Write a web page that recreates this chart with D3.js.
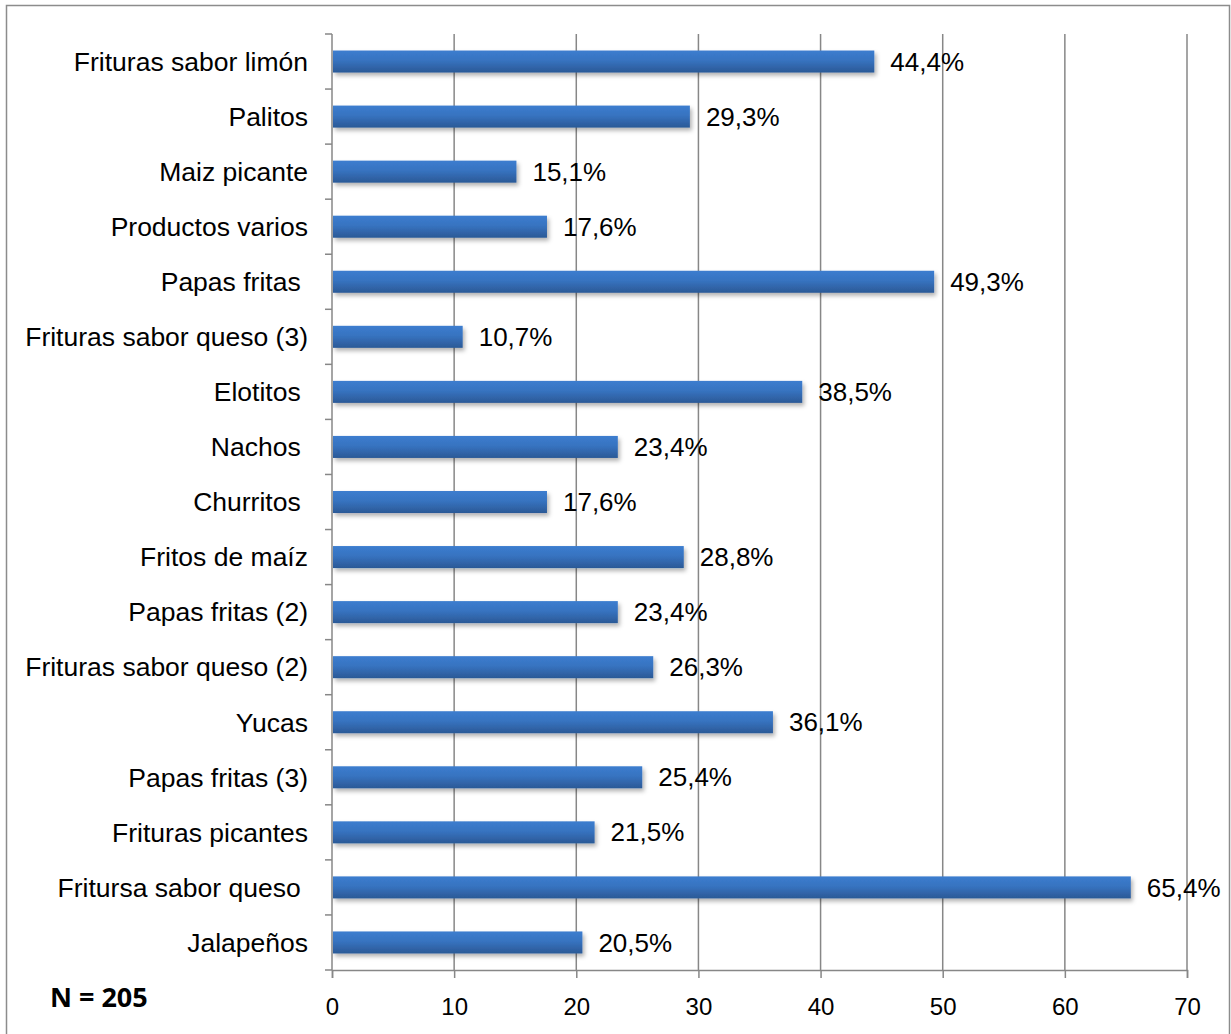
<!DOCTYPE html>
<html>
<head>
<meta charset="utf-8">
<script src="https://cdn.jsdelivr.net/npm/d3@7"></script>
<style>
  body { margin: 0; background: #fff; }
  svg text { font-family: "Liberation Sans", Arial, sans-serif; fill: #000; white-space: pre; }
</style>
</head>
<body>
<div id="chart"></div>
<script>
// Categories top to bottom, with the trailing spaces the source labels have
const categories = [
    "Frituras sabor limón", "Palitos", "Maiz picante", "Productos varios",
    "Papas fritas ", "Frituras sabor queso (3)", "Elotitos ", "Nachos ",
    "Churritos ", "Fritos de maíz", "Papas fritas (2)", "Frituras sabor queso (2)",
    "Yucas", "Papas fritas (3)", "Frituras picantes", "Fritursa sabor queso ", "Jalapeños"
];
const values = [44.4, 29.3, 15.1, 17.6, 49.3, 10.7, 38.5, 23.4, 17.6, 28.8, 23.4, 26.3, 36.1, 25.4, 21.5, 65.4, 20.5];
const xTicks = [0, 10, 20, 30, 40, 50, 60, 70];
const note = "N = 205";

const W = 1231, H = 1034;
const margin = { top: 34, right: 44, bottom: 64, left: 332 };
const width = 1187 - margin.left;
const height = 970 - margin.top;

const svg = d3.select("#chart").append("svg")
    .attr("width", W).attr("height", H);

const defs = svg.append("defs");
const grad = defs.append("linearGradient")
    .attr("id", "barGrad").attr("x1", 0).attr("y1", 0).attr("x2", 0).attr("y2", 1);
grad.append("stop").attr("offset", "0%").attr("stop-color", "#3c7dcf");
grad.append("stop").attr("offset", "45%").attr("stop-color", "#3773c0");
grad.append("stop").attr("offset", "100%").attr("stop-color", "#2b5996");

const shadow = defs.append("filter").attr("id", "shadow")
    .attr("x", "-5%").attr("y", "-40%").attr("width", "110%").attr("height", "200%");
shadow.append("feDropShadow")
    .attr("dx", 2).attr("dy", 3).attr("stdDeviation", 2)
    .attr("flood-color", "#000").attr("flood-opacity", 0.3);

// outer frame
svg.append("rect")
    .attr("x", 6.5).attr("y", 5.5).attr("width", 1223).attr("height", 1040)
    .attr("fill", "none").attr("stroke", "#8c8c8c").attr("stroke-width", 1.5);

const g = svg.append("g").attr("transform", `translate(${margin.left},${margin.top})`);

const x = d3.scaleLinear().domain([0, 70]).range([0, width]);
const y = d3.scaleBand().domain(categories).range([0, height]).paddingInner(0.6).paddingOuter(0.3);

// vertical gridlines
g.append("g").selectAll("line")
    .data(xTicks.slice(1))
    .join("line")
    .attr("x1", d => x(d)).attr("x2", d => x(d))
    .attr("y1", 0).attr("y2", height)
    .attr("stroke", "#878787").attr("stroke-width", 1.5);

// x axis
const xAxis = g.append("g")
    .attr("transform", `translate(0,${height})`)
    .call(d3.axisBottom(x).tickValues(xTicks).tickSize(8).tickPadding(20).tickFormat(d3.format("d")));
xAxis.select(".domain").attr("stroke", "#878787").attr("stroke-width", 1.5);
xAxis.selectAll(".tick line").attr("stroke", "#878787").attr("stroke-width", 1.5);
xAxis.selectAll("text").style("font-size", "24px");

// y axis: ticks sit on band boundaries
const step = height / categories.length;
const yAxis = g.append("g");
yAxis.append("line")
    .attr("x1", 0).attr("x2", 0).attr("y1", 0).attr("y2", height)
    .attr("stroke", "#878787").attr("stroke-width", 1.5);
yAxis.selectAll("line.tk")
    .data(d3.range(categories.length + 1))
    .join("line").attr("class", "tk")
    .attr("x1", -7).attr("x2", 0)
    .attr("y1", i => i * step).attr("y2", i => i * step)
    .attr("stroke", "#878787").attr("stroke-width", 1.5);
yAxis.selectAll("text")
    .data(categories)
    .join("text")
    .attr("x", -24)
    .attr("y", d => y(d) + y.bandwidth() / 2)
    .attr("dy", "0.35em")
    .attr("text-anchor", "end")
    .style("font-size", "26.5px")
    .text(d => d);

// bars
const rows = categories.map((c, i) => ({ cat: c, v: values[i] }));
g.append("g").selectAll("rect")
    .data(rows)
    .join("rect")
    .attr("x", 1)
    .attr("y", d => y(d.cat))
    .attr("width", d => x(d.v) - 1)
    .attr("height", y.bandwidth())
    .attr("fill", "url(#barGrad)")
    .attr("filter", "url(#shadow)");

// value labels
g.append("g").selectAll("text")
    .data(rows)
    .join("text")
    .attr("x", d => x(d.v) + 16)
    .attr("y", d => y(d.cat) + y.bandwidth() / 2)
    .attr("dy", "0.35em")
    .style("font-size", "26px")
    .text(d => d3.format(".1f")(d.v).replace(".", ",") + "%");

svg.append("text")
    .attr("x", 50).attr("y", 1007)
    .attr("font-weight", "bold")
    .style("font-size", "27px")
    .style("font-family", "'Open Sans', 'Liberation Sans', sans-serif")
    .text(note);
</script>
</body>
</html>
